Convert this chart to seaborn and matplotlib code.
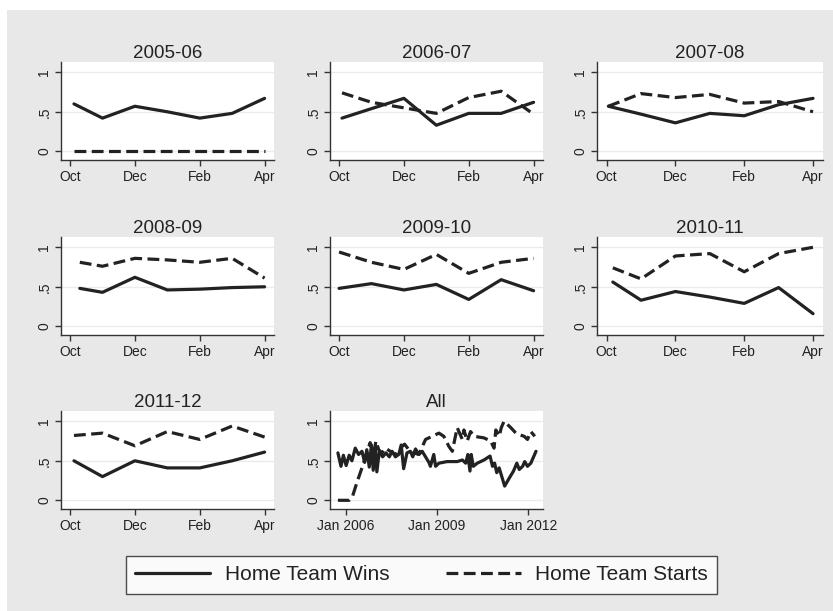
import numpy as np
import pandas as pd
import matplotlib.pyplot as plt
import matplotlib.patches as mpatches
from matplotlib.lines import Line2D
import seaborn as sns

sns.set_style('ticks')
plt.rcParams['font.family'] = ['Liberation Sans', 'DejaVu Sans']

# --- data ---
seasons = ['2005-06', '2006-07', '2007-08', '2008-09', '2009-10', '2010-11', '2011-12']
months = [0, 1, 2, 3, 4, 5, 6]               # Oct .. Apr
month_ticks = [0, 2, 4, 6]
month_labels = ['Oct', 'Dec', 'Feb', 'Apr']
first_shift = [0.12, 0.09, 0.05, 0.30, 0.0, 0.18, 0.12]  # Oct point sits a bit after the tick

wins_0506 = [0.60, 0.42, 0.57, 0.50, 0.42, 0.48, 0.67]
starts_0506 = [0.0, 0.0, 0.0, 0.0, 0.0, 0.0, 0.0]
wins_0607 = [0.42, 0.54, 0.67, 0.33, 0.48, 0.48, 0.62]
starts_0607 = [0.74, 0.62, 0.55, 0.48, 0.68, 0.76, 0.47]
wins_0708 = [0.57, 0.47, 0.36, 0.48, 0.45, 0.59, 0.67]
starts_0708 = [0.57, 0.73, 0.68, 0.72, 0.61, 0.63, 0.50]
wins_0809 = [0.48, 0.43, 0.62, 0.46, 0.47, 0.49, 0.50]
starts_0809 = [0.81, 0.76, 0.86, 0.84, 0.81, 0.86, 0.61]
wins_0910 = [0.48, 0.54, 0.46, 0.53, 0.34, 0.59, 0.45]
starts_0910 = [0.94, 0.81, 0.72, 0.91, 0.67, 0.81, 0.86]
wins_1011 = [0.56, 0.33, 0.44, 0.37, 0.29, 0.49, 0.16]
starts_1011 = [0.74, 0.60, 0.89, 0.92, 0.69, 0.92, 1.00]
wins_1112 = [0.50, 0.30, 0.50, 0.41, 0.41, 0.50, 0.61]
starts_1112 = [0.82, 0.85, 0.69, 0.87, 0.77, 0.94, 0.80]

season_wins = [wins_0506, wins_0607, wins_0708, wins_0809, wins_0910, wins_1011, wins_1112]
season_starts = [starts_0506, starts_0607, starts_0708, starts_0809, starts_0910, starts_1011, starts_1112]

# "All" panel (time in decimal years)
all_wins_year = [2005.74, 2005.84, 2005.92, 2006.01, 2006.11, 2006.20, 2006.31, 2006.42, 2006.53, 2006.62,
                 2006.69, 2006.77, 2006.84, 2006.90, 2006.97, 2007.02, 2007.10, 2007.21, 2007.32, 2007.43,
                 2007.52, 2007.63, 2007.74, 2007.82, 2007.90, 2008.01, 2008.12, 2008.20, 2008.29, 2008.40,
                 2008.51, 2008.62, 2008.73, 2008.78, 2008.89, 2008.95, 2009.06, 2009.33, 2009.66, 2009.83,
                 2009.94, 2010.01, 2010.08, 2010.12, 2010.19, 2010.32, 2010.54, 2010.74, 2010.82, 2010.89,
                 2010.96, 2011.04, 2011.11, 2011.22, 2011.37, 2011.51, 2011.62, 2011.70, 2011.81, 2011.88,
                 2011.97, 2012.08, 2012.25]
all_wins = [0.60, 0.43, 0.57, 0.44, 0.57, 0.50, 0.66, 0.58, 0.62, 0.48,
            0.64, 0.42, 0.70, 0.38, 0.66, 0.36, 0.62, 0.55, 0.60, 0.55,
            0.62, 0.55, 0.58, 0.70, 0.40, 0.60, 0.62, 0.55, 0.65, 0.58,
            0.62, 0.55, 0.48, 0.43, 0.58, 0.43, 0.47, 0.49, 0.49, 0.51,
            0.47, 0.58, 0.37, 0.58, 0.43, 0.47, 0.51, 0.56, 0.43, 0.47,
            0.35, 0.41, 0.32, 0.18, 0.28, 0.37, 0.47, 0.39, 0.43, 0.49,
            0.43, 0.47, 0.62]
all_starts_year = [2005.74, 2006.11, 2006.22, 2006.36, 2006.53, 2006.69, 2006.80, 2006.91, 2006.99, 2007.08,
                   2007.19, 2007.30, 2007.46, 2007.63, 2007.79, 2007.93, 2008.07, 2008.23, 2008.40, 2008.62,
                   2008.84, 2009.06, 2009.22, 2009.39, 2009.50, 2009.66, 2009.83, 2009.88, 2009.99, 2010.10,
                   2010.21, 2010.54, 2010.76, 2010.87, 2010.93, 2011.04, 2011.11, 2011.20, 2011.42, 2011.59,
                   2011.70, 2011.86, 2011.97, 2012.08, 2012.21]
all_starts = [0.0, 0.0, 0.05, 0.22, 0.41, 0.60, 0.73, 0.58, 0.75, 0.64,
              0.60, 0.66, 0.62, 0.58, 0.66, 0.71, 0.64, 0.60, 0.58, 0.77,
              0.81, 0.85, 0.81, 0.68, 0.62, 0.92, 0.77, 0.89, 0.75, 0.87,
              0.81, 0.79, 0.75, 0.66, 0.89, 0.81, 0.92, 1.00, 0.92, 0.85,
              0.83, 0.81, 0.77, 0.87, 0.81]
all_ticks = [2006, 2009, 2012]
all_labels = ['Jan 2006', 'Jan 2009', 'Jan 2012']

series_names = ['Home Team Wins', 'Home Team Starts']

# --- styling ---
W, H = 833, 611
line_col = '#222222'
dash = (3.7, 1.7)
dashes = {'Home Team Wins': '', 'Home Team Starts': dash}

fig = plt.figure(figsize=(W / 100, H / 100), dpi=100, facecolor='white')
fig.patches.append(mpatches.Rectangle((7 / W, 0), 1 - 7 / W, 1 - 10 / H, transform=fig.transFigure,
                                      facecolor='#e8e8e8', edgecolor='none', zorder=-1))

col_left = [61, 330, 597]
col_width = [213, 213, 226]
row_bottom = [160, 335, 509]
ph = 98


def make_ax(r, c):
    ax = fig.add_axes([col_left[c] / W, 1 - row_bottom[r] / H, col_width[c] / W, ph / H])
    ax.set_facecolor('white')
    return ax


def style(ax, title):
    sns.despine(ax=ax)
    for s in ['left', 'bottom']:
        ax.spines[s].set_color('#333333')
        ax.spines[s].set_linewidth(1.0)
    ax.set_ylim(-0.11, 1.13)
    ax.set_yticks([0, 0.5, 1])
    ax.set_yticklabels(['0', '.5', '1'], rotation=90, va='center')
    ax.tick_params(direction='out', length=4, width=1, color='#333333', labelsize=10,
                   labelcolor='#222222', pad=3)
    ax.yaxis.grid(True, color='#ebebeb', lw=1)
    ax.set_axisbelow(True)
    ax.set_xlabel('')
    ax.set_ylabel('')
    ax.set_title(title, fontsize=13.5, pad=3, color='#222222')


for i, season in enumerate(seasons):
    r, c = divmod(i, 3)
    ax = make_ax(r, c)
    x = [m + (first_shift[i] if m == 0 else 0) for m in months]
    df = pd.DataFrame({
        'month': x + x,
        'rate': season_wins[i] + season_starts[i],
        'series': [series_names[0]] * 7 + [series_names[1]] * 7,
    })
    sns.lineplot(data=df, x='month', y='rate', style='series', dashes=dashes,
                 color=line_col, lw=2.3, legend=False, errorbar=None, ax=ax)
    ax.set_xlim(-0.28, 6.29)
    ax.set_xticks(month_ticks)
    ax.set_xticklabels(month_labels)
    style(ax, season)

# All panel
ax = make_ax(2, 1)
df_all = pd.DataFrame({
    'year': all_wins_year + all_starts_year,
    'rate': all_wins + all_starts,
    'series': [series_names[0]] * len(all_wins) + [series_names[1]] * len(all_starts),
})
sns.lineplot(data=df_all, x='year', y='rate', style='series', dashes=dashes,
             color=line_col, lw=2.3, legend=False, errorbar=None, ax=ax)
ax.set_xlim(2005.48, 2012.48)
ax.set_xticks(all_ticks)
ax.set_xticklabels(all_labels)
style(ax, 'All')

handles = [Line2D([], [], color=line_col, lw=2.3),
           Line2D([], [], color=line_col, lw=2.3, ls=(0, dash))]
leg = fig.legend(handles, series_names, loc='center', bbox_to_anchor=(0.506, 0.059), ncol=2,
                 fontsize=15, handlelength=3.6, handletextpad=0.7, columnspacing=2.7,
                 frameon=True, fancybox=False, edgecolor='#222222', borderpad=0.45)
leg.get_frame().set_linewidth(1.0)
leg.get_frame().set_facecolor('white')
for t in leg.get_texts():
    t.set_color('#222222')

fig.savefig('out.png', dpi=100, facecolor=fig.get_facecolor())
